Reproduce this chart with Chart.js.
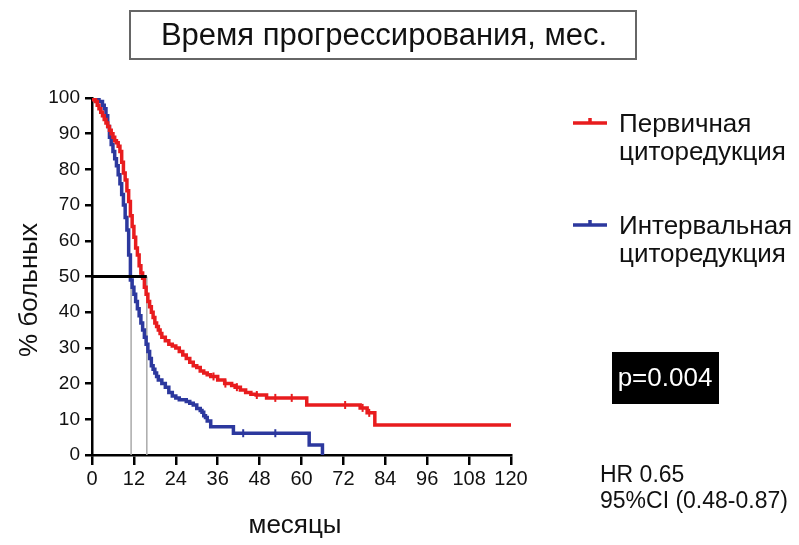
<!DOCTYPE html>
<html lang="ru">
<head>
<meta charset="UTF-8">
<title>Время прогрессирования, мес.</title>
<style>
  body { margin: 0; background: #fff; }
  #wrap { width: 799px; height: 545px; }
</style>
</head>
<body>
<div id="wrap"><canvas id="chart" width="799" height="545"></canvas></div>

<script src="https://cdn.jsdelivr.net/npm/chart.js@4.4.0/dist/chart.umd.min.js"></script>
<script>
// values: month -> % of patients (KM steps)
const titleText = 'Время прогрессирования, мес.';
const xTitle = 'месяцы';
const yTitle = '% больных';

const redMonths = [0, 0.5, 1, 1.5, 2, 2.5, 3, 3.5, 4, 4.5, 5, 5.5, 6, 6.5, 7, 7.5, 8, 8.5, 9, 9.5, 10, 10.5, 11, 11.5, 12, 12.5, 13, 13.5, 14, 14.5, 15, 15.5, 16, 16.5, 17, 17.5, 18, 18.5, 19, 19.5, 20, 21, 22, 23, 24, 25, 26, 27, 28, 29, 30, 31, 32, 33, 34, 36, 38, 40, 41, 42.5, 44, 45.5, 47, 50, 61.5, 76.8, 78.8, 81, 120];
const redPct    = [100, 99.5, 99, 98, 97, 96, 95, 94, 93, 92, 91, 90, 89, 88, 87.5, 86.5, 85, 82, 79, 77, 74, 71, 67, 64, 61, 58, 56, 53, 51, 49.5, 47, 45, 43, 41.5, 40, 38.5, 37, 36, 35, 34, 33, 32, 31, 30.5, 30, 29, 28, 27, 26, 25, 24.5, 23.5, 23, 22.5, 22, 21, 20, 19.5, 19, 18.2, 17.5, 17, 16.8, 16, 14, 13.2, 11.8, 8.4, 8.4];

const blueMonths = [0, 1, 2, 3, 3.5, 4, 4.5, 5, 5.5, 6, 6.5, 7, 7.5, 8, 8.5, 9, 9.5, 10, 10.5, 11, 11.5, 12, 12.5, 13, 13.5, 14, 14.5, 15, 15.5, 16, 16.5, 17, 17.5, 18, 18.5, 19, 20, 21, 22, 23, 24, 25, 27, 28, 29, 30, 31, 31.5, 32, 32.5, 33, 34, 40.5, 62.2, 66];
const bluePct    = [100, 99.5, 99, 98, 97, 95, 92, 89, 87, 85, 83, 81, 78.5, 76, 73, 70, 66.5, 63, 56, 49, 47, 45, 43, 41, 39, 37, 35, 33, 31, 29, 27, 25, 24, 23, 22, 21, 20, 19, 17.5, 16.5, 16, 15.5, 15, 14.5, 14, 13, 12.5, 12, 11, 10.5, 9.5, 7.9, 6.1, 2.8, 0];

// censored observations (small ticks)
const redCensMonths = [34.8, 38.2, 41.5, 47.2, 52.5, 57.2, 72.5, 77.5, 79.4];
const redCensPct    = [22, 20, 19, 16.8, 16, 16, 14, 13.2, 11.8];
const blueCensMonths = [43.3, 52.5];
const blueCensPct    = [6.1, 6.1];

// medians
const medianMonths = [11.2, 15.7];
const medianLevel = 50;

const seriesNames = [['Первичная', 'циторедукция'], ['Интервальная', 'циторедукция']];
const pText = 'p=0.004';
const hrLines = ['HR 0.65', '95%CI (0.48-0.87)'];

const xTicks = [0, 12, 24, 36, 48, 60, 72, 84, 96, 108, 120];

const RED = 'rgb(232,28,30)';
const BLUE = 'rgb(44,56,158)';
const FONT = '"Liberation Sans", Arial, Helvetica, sans-serif';

function pts(xs, ys) {
  return xs.map((x, i) => ({x: x, y: ys[i]}));
}

const decor = {
  id: 'decor',
  afterDraw(chart) {
    const ctx = chart.ctx;
    ctx.save();
    // title box
    ctx.strokeStyle = '#666';
    ctx.lineWidth = 2;
    ctx.strokeRect(130, 11, 506, 48);
    ctx.fillStyle = '#111';
    ctx.font = '31px ' + FONT;
    ctx.textAlign = 'center';
    ctx.textBaseline = 'middle';
    ctx.fillText(titleText, 384, 36);

    // axis titles
    ctx.font = '26px ' + FONT;
    ctx.fillText(xTitle, 295, 526);
    ctx.save();
    ctx.translate(30, 290);
    ctx.rotate(-Math.PI / 2);
    ctx.fillText(yTitle, 0, 0);
    ctx.restore();

    // legend
    const legY = [123, 225];
    const cols = [RED, BLUE];
    ctx.textAlign = 'left';
    ctx.textBaseline = 'alphabetic';
    ctx.font = '26px ' + FONT;
    for (let i = 0; i < 2; i++) {
      ctx.strokeStyle = cols[i];
      ctx.lineWidth = 3.5;
      ctx.beginPath();
      ctx.moveTo(573, legY[i]); ctx.lineTo(607, legY[i]);
      ctx.moveTo(590, legY[i] - 5); ctx.lineTo(590, legY[i]);
      ctx.stroke();
      ctx.fillStyle = '#111';
      ctx.fillText(seriesNames[i][0], 619, legY[i] + 9);
      ctx.fillText(seriesNames[i][1], 619, legY[i] + 37);
    }

    // p-value box
    ctx.fillStyle = '#000';
    ctx.fillRect(612, 352, 107, 52);
    ctx.fillStyle = '#fff';
    ctx.font = '26px ' + FONT;
    ctx.textAlign = 'center';
    ctx.textBaseline = 'middle';
    ctx.fillText(pText, 665, 379);

    // HR
    ctx.fillStyle = '#111';
    ctx.font = '23px ' + FONT;
    ctx.textAlign = 'left';
    ctx.textBaseline = 'alphabetic';
    ctx.fillText(hrLines[0], 600, 482);
    ctx.fillText(hrLines[1], 600, 508);
    ctx.restore();
  }
};

const censorStyle = {
  type: 'line',
  showLine: false,
  pointStyle: 'line',
  rotation: 90,
  pointRadius: 4,
  pointBorderWidth: 2
};

new Chart(document.getElementById('chart'), {
  type: 'line',
  data: {
    datasets: [
      {
        data: [{x: 0, y: medianLevel}, {x: medianMonths[1], y: medianLevel}],
        borderColor: '#000', borderWidth: 3, pointRadius: 0
      },
      Object.assign({}, censorStyle, {data: pts(redCensMonths, redCensPct), borderColor: RED}),
      {
        data: pts(redMonths, redPct),
        borderColor: RED, borderWidth: 3.5, pointRadius: 0, stepped: 'before'
      },
      Object.assign({}, censorStyle, {data: pts(blueCensMonths, blueCensPct), borderColor: BLUE}),
      {
        data: pts(blueMonths, bluePct),
        borderColor: BLUE, borderWidth: 3.5, pointRadius: 0, stepped: 'before'
      },
      {
        data: [{x: medianMonths[0], y: 0}, {x: medianMonths[0], y: medianLevel}],
        borderColor: '#aaa', borderWidth: 1.5, pointRadius: 0
      },
      {
        data: [{x: medianMonths[1], y: 0}, {x: medianMonths[1], y: medianLevel}],
        borderColor: '#aaa', borderWidth: 1.5, pointRadius: 0
      }
    ]
  },
  options: {
    responsive: false,
    animation: false,
    layout: { padding: { left: 0, right: 288, top: 98, bottom: 0 } },
    plugins: { legend: { display: false }, tooltip: { enabled: false } },
    scales: {
      x: {
        type: 'linear', min: 0, max: 120,
        afterFit(scale) { scale.height = 90; },
        afterBuildTicks(scale) { scale.ticks = xTicks.map(v => ({value: v})); },
        border: { display: true, color: '#000', width: 2.5 },
        grid: { display: true, drawOnChartArea: false, drawTicks: true, tickLength: 10, color: '#000', lineWidth: 2.5 },
        ticks: { color: '#111', font: { family: FONT, size: 20 }, padding: 2, maxRotation: 0 },
        title: { display: false }
      },
      y: {
        min: 0, max: 100,
        afterFit(scale) { scale.width = 92; },
        border: { display: true, color: '#000', width: 2.5 },
        grid: { display: true, drawOnChartArea: false, drawTicks: true, tickLength: 7, color: '#000', lineWidth: 2.5 },
        ticks: { stepSize: 10, color: '#111', font: { family: FONT, size: 19 }, padding: 5 },
        title: { display: false }
      }
    }
  },
  plugins: [decor]
});
</script>
</body>
</html>
